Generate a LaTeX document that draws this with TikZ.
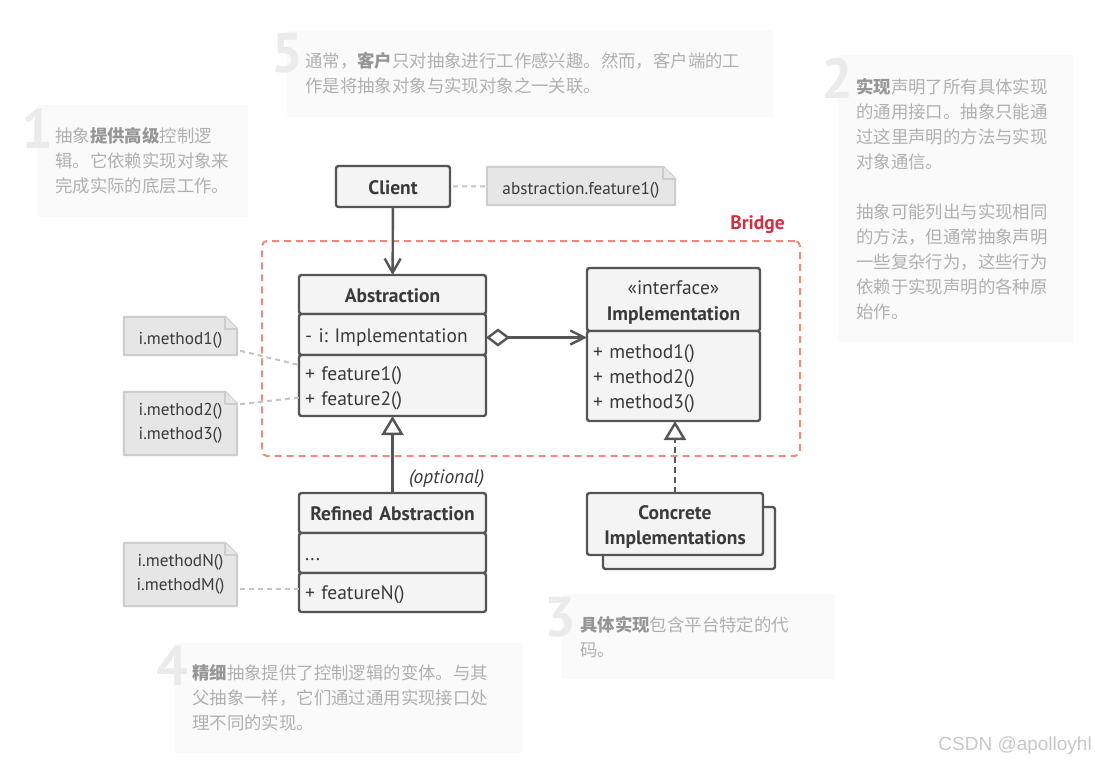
\documentclass[tikz,border=0pt]{standalone}
\usepackage{fontspec}
\setmainfont{PT Sans}
\newfontfamily\cjk{Noto Sans CJK SC}
\newfontfamily\wmfont{Liberation Sans}
\usepackage{tikz}
\usetikzlibrary{arrows.meta,positioning,backgrounds}
\definecolor{umlline}{HTML}{555555}
\definecolor{umlfill}{HTML}{F4F4F4}
\definecolor{umltext}{HTML}{3A3A3A}
\definecolor{notefill}{HTML}{E6E6E6}
\definecolor{notedraw}{HTML}{CDCDCD}
\definecolor{linkgray}{HTML}{C4C4C4}
\definecolor{bridgered}{HTML}{F28A7C}
\definecolor{bridgetext}{HTML}{D42E40}
\definecolor{tipfill}{HTML}{FAFAFA}
\definecolor{tiptext}{HTML}{B0B0B0}
\definecolor{tipbold}{HTML}{969696}
\definecolor{tipnum}{HTML}{EBEBEB}
\definecolor{wmgray}{HTML}{C8C8C8}
\newcommand{\hl}[1]{{\bfseries\color{tipbold}#1}}
\newcommand{\notefold}{12pt}
\frenchspacing

\begin{document}
\begin{tikzpicture}[x=1pt, y=-1pt,
  every node/.style={text=umltext, font=\fontsize{19.5}{25}\selectfont},
  classsec/.style={draw=umlline, fill=umlfill, line width=2.4pt, rounded corners=2.5pt,
    outer sep=0pt, inner xsep=6pt, inner ysep=0pt, align=left, text width=#1,
    execute at begin node={\rule{0pt}{19pt}}, execute at end node={\rule[-3.5pt]{0pt}{3.5pt}}},
  classsec/.default=175pt,
  classhead/.style={align=center, font=\fontsize{19.5}{25}\selectfont\bfseries},
  note/.style={inner sep=0pt, align=center, minimum width=113pt,
    font=\fontsize{17.2}{23.5}\selectfont,
    execute at begin node={\rule{0pt}{20pt}}, execute at end node={\rule[-3pt]{0pt}{3pt}}},
  notebox/.style={draw=notedraw, fill=notefill, line width=2pt, line join=round},
  notelink/.style={draw=linkgray, line width=2pt, dash pattern=on 5pt off 4pt, shorten <=3pt},
  umlarrow/.style={draw=umlline, line width=2.4pt},
  bridgebox/.style={draw=bridgered, line width=2pt, dash pattern=on 7pt off 5pt,
    rounded corners=5pt, inner sep=0pt, outer sep=0pt},
  bridgelabel/.style={text=bridgetext, anchor=south east, inner sep=0pt,
    font=\fontsize{19.5}{20}\selectfont\bfseries},
  tip/.style={fill=tipfill, text=tiptext, inner xsep=18pt, inner ysep=0pt, align=left,
    anchor=north west, font=\cjk\fontsize{17.4}{25}\selectfont},
  tipnum/.style={text=tipnum, inner sep=0pt, anchor=north east,
    font=\fontsize{56}{56}\selectfont\bfseries},
]
  \path[use as bounding box] (0,0) rectangle (1095,763);
  \begin{scope}[on background layer]
    \fill[white] (0,0) rectangle (1095,763);
  \end{scope}

  % numbered tips
  \node[tip, text width=175pt, minimum height=112pt] (tip1) at (37,105)
    {抽象\hl{提供高级}控制逻\\辑。它依赖实现对象来\\完成实际的底层工作。};
  \node[tipnum] at ([xshift=16pt,yshift=-3pt]tip1.north west) {1};
  \node[tip, text width=199pt, minimum height=287pt] (tip2) at (838,55)
    {\hl{实现}声明了所有具体实现\\的通用接口。抽象只能通\\过这里声明的方法与实现\\对象通信。\\[25pt]%
     抽象可能列出与实现相同\\的方法，但通常抽象声明\\一些复杂行为，这些行为\\依赖于实现声明的各种原\\始作。};
  \node[tipnum] at ([xshift=15pt,yshift=-3pt]tip2.north west) {2};
  \node[tip, text width=237pt, minimum height=85pt] (tip3) at (562,594)
    {\hl{具体实现}包含平台特定的代\\码。};
  \node[tipnum] at ([xshift=14pt,yshift=-3pt]tip3.north west) {3};
  \node[tip, text width=313pt, minimum height=110pt] (tip4) at (174,643)
    {\hl{精细}抽象提供了控制逻辑的变体。与其\\父抽象一样，它们通过通用实现接口处\\理不同的实现。};
  \node[tipnum] at ([xshift=14pt,yshift=-3pt]tip4.north west) {4};
  \node[tip, text width=450pt, minimum height=87pt] (tip5) at (287,30)
    {通常，\hl{客户}只对抽象进行工作感兴趣。然而，客户端的工\\作是将抽象对象与实现对象之一关联。};
  \node[tipnum] at ([xshift=16pt,yshift=-3pt]tip5.north west) {5};

  % bridge frame
  \node[bridgebox, minimum width=538pt, minimum height=215pt] (bridge) at (531,348.5) {};
  \node[bridgelabel] at ([xshift=-15pt,yshift=7pt]bridge.north east) {Bridge};

  % classes
  \node[classsec=102pt, classhead, minimum height=41pt] (client) at (393,186.5) {Client};
  \node[classsec, classhead, minimum height=39pt] (abstraction) at (392.5,294.5) {Abstraction};
  \node[classsec, minimum height=41pt, below=0pt of abstraction] (absfield) {- i: Implementation};
  \node[classsec, minimum height=61pt, below=0pt of absfield] (absops) {+ feature1()\\+ feature2()};
  \node[classsec=161pt, align=center, minimum height=63pt,
    font=\fontsize{19.5}{26}\selectfont] (impl) at (673.5,299.5)
    {«interface»\\\textbf{Implementation}};
  \node[classsec=161pt, minimum height=90pt, below=0pt of impl] (implops)
    {+ method1()\\+ method2()\\+ method3()};
  \node[classsec, classhead, minimum height=40pt] (refined) at (392.5,513) {Refined Abstraction};
  \node[classsec, minimum height=40pt, below=0pt of refined] (refinedfield) {...};
  \node[classsec, minimum height=39pt, below=0pt of refinedfield] (refinedops) {+ featureN()};
  \node[classsec=160pt, minimum height=62pt] (concreteback) at (689,538) {};
  \node[classsec=164pt, classhead, minimum height=62pt] (concrete) at (675,524)
    {Concrete\\Implementations};

  % notes
  \node[note, minimum width=188pt, minimum height=38pt] (clientnote) at (581,186) {abstraction.feature1()};
  \node[note, minimum height=38pt] (note1) at (180.5,336) {i.method1()};
  \node[note, minimum height=63pt] (note23) at (180.5,423.5) {i.method2()\\i.method3()};
  \node[note, minimum height=63pt] (noteNM) at (180.5,574.5) {i.methodN()\\i.methodM()};
  \begin{scope}[on background layer]
    \foreach \n in {clientnote,note1,note23,noteNM} {
      \draw[notebox] (\n.south west) -- (\n.north west) -- ([xshift=-\notefold]\n.north east)
        -- ([yshift=-\notefold]\n.north east) -- (\n.south east) -- cycle;
      \draw[notebox] ([xshift=-\notefold]\n.north east)
        -- ([xshift=-\notefold,yshift=-\notefold]\n.north east) -- ([yshift=-\notefold]\n.north east);
    }
  \end{scope}

  % connectors
  \draw[notelink] (client) -- (clientnote);
  \draw[notelink] ([yshift=-14pt]note1.east) -- ([yshift=-10pt]absops.north west);
  \draw[notelink] ([yshift=19pt]note23.east) -- ([yshift=-12pt]absops.west);
  \coordinate (nmlink) at ([yshift=4pt]refinedops.west);
  \draw[notelink] (noteNM.east |- nmlink) -- (nmlink);

  \draw[umlarrow, -{Straight Barb[length=14pt,width=16pt]}] (client) -- (abstraction);
  \coordinate (agg) at ([yshift=-3pt]absfield.east);
  \draw[umlarrow, {Diamond[fill=white,length=24pt,width=18pt]}-{Straight Barb[length=14pt,width=14pt]}]
    (agg) -- (agg -| implops.west);
  \draw[umlarrow, -{Triangle[fill=white,length=19pt,width=22pt]}] (refined) --
    node[pos=0.19, right=12pt, font=\fontsize{19.5}{25}\selectfont\itshape] {(optional)} (absops);
  \draw[umlarrow, dash pattern=on 6pt off 4pt, -{Triangle[fill=white,length=19pt,width=22pt]}]
    (concrete) -- (concrete.north |- implops.south);

  \node[anchor=east, inner sep=0pt, text=wmgray, font=\wmfont\fontsize{19}{19}\selectfont]
    (csdn) at (1092,746) {CSDN @apolloyhl};
\end{tikzpicture}
\end{document}
